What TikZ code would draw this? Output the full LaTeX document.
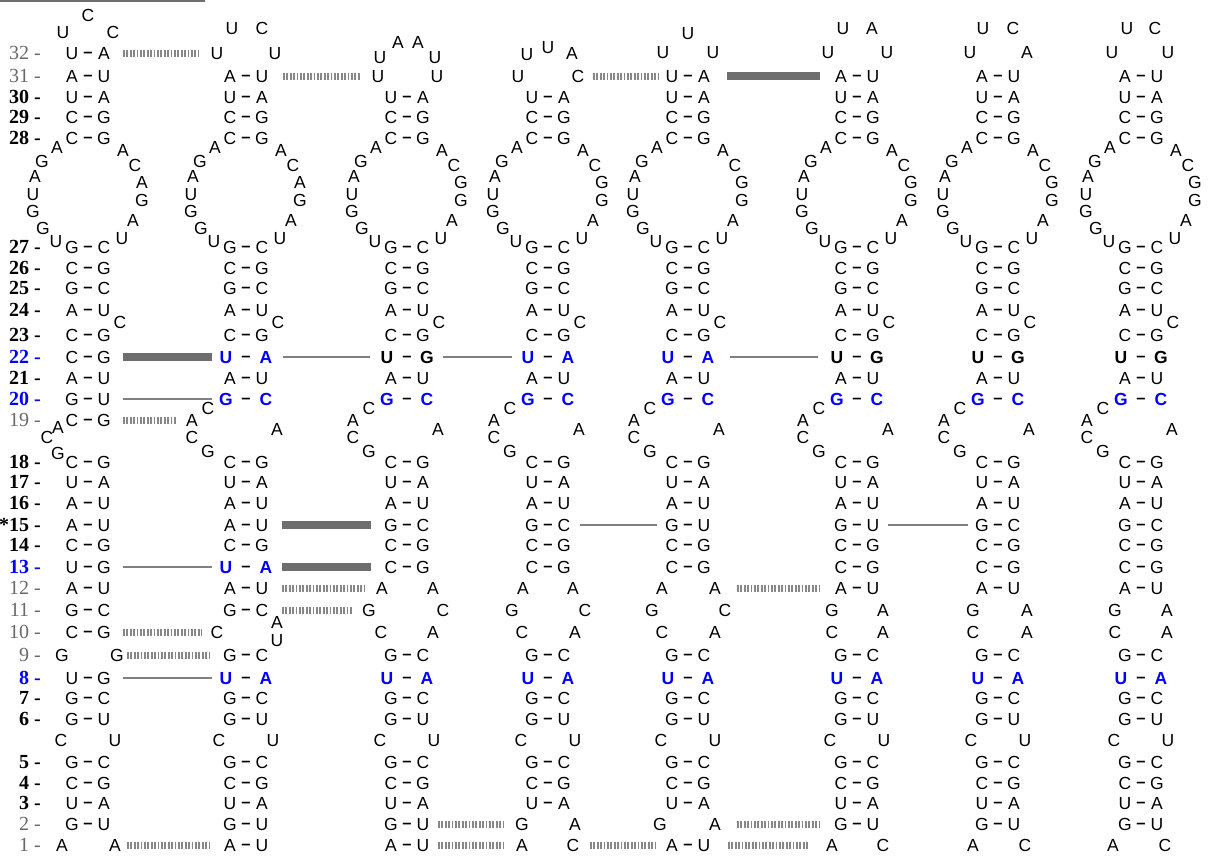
\documentclass[tikz,border=0pt]{standalone}
\usepackage{fontspec}
\setmainfont{Liberation Serif}
\newfontfamily\rnafont{Liberation Sans}
\definecolor{rnablue}{RGB}{0,0,255}
\definecolor{lblgray}{RGB}{105,105,105}
\definecolor{bargray}{RGB}{110,110,110}
\definecolor{linegray}{RGB}{128,128,128}
\definecolor{dashgray}{RGB}{135,135,135}
\tikzset{
 nt/.style={font=\rnafont\fontsize{17.5}{19}\selectfont, inner sep=0pt, text height=12.5pt, text depth=0pt, anchor=center},
 ntb/.style={nt, font=\rnafont\bfseries\fontsize{17.5}{19}\selectfont},
 ntdash/.style={nt, font=\rnafont\bfseries\fontsize{16.5}{18}\selectfont, yshift=1.3pt},
 lbl/.style={font=\bfseries\fontsize{20}{22}\selectfont, inner sep=0pt, text height=13.5pt, text depth=0pt, anchor=east},
 lblg/.style={lbl, font=\fontsize{20}{22}\selectfont, text=lblgray},
 lblb/.style={lbl, text=rnablue},
 thinlink/.style={draw=linegray, line width=2pt},
 thicklink/.style={draw=bargray, line width=8.5pt},
 dashlink/.style={draw=dashgray, line width=7pt, dash pattern=on 1.7pt off 1.7pt},
}
\def\colx{{0,88,246,407,548,688,857,998,1141}}
\newcommand\RNApair[5]{%
  \pgfmathsetmacro\cxx{\colx[#1]}%
  \node[nt] (c#1r#2L) at (\cxx-16,#3) {#4};%
  \node[ntdash] (c#1r#2d) at (\cxx,#3) {–};%
  \node[nt] (c#1r#2R) at (\cxx+16,#3) {#5};%
}
\newcommand\RNAbold[6]{%
  \pgfmathsetmacro\cxx{\colx[#1]}%
  \node[ntb,text=#6] (c#1r#2L) at (\cxx-20,#3) {#4};%
  \node[ntdash] (c#1r#2d) at (\cxx,#3) {–};%
  \node[ntb,text=#6] (c#1r#2R) at (\cxx+20,#3) {#5};%
}
\newcommand\RNAunp[7]{%
  \pgfmathsetmacro\cxx{\colx[#1]}%
  \node[nt] (c#1r#2L) at (\cxx+#5,#3) {#4};%
  \node[nt] (c#1r#2R) at (\cxx+#7,#3) {#6};%
}
\newcommand\RNAnt[5]{%
  \pgfmathsetmacro\cxx{\colx[#1]}%
  \node[nt] (c#1#2) at (\cxx+#3,#4) {#5};%
}
\newcommand\RNAlink[5]{\draw[#1, shorten <=#4pt, shorten >=#5pt] (#2.center) -- (#3.center);}
\begin{document}
\begin{tikzpicture}[x=1pt,y=-1pt]
\useasboundingbox (0,0) rectangle (1210,855);
\draw[draw=bargray, line width=2.5pt] (0,1.2) -- (205,1.2);
% row labels
\node[lblg] (l32) at (41,53) {32 -};
\node[lblg] (l31) at (41,76) {31 -};
\node[lbl] (l30) at (41,97) {30 -};
\node[lbl] (l29) at (41,117) {29 -};
\node[lbl] (l28) at (41,138) {28 -};
\node[lbl] (l27) at (41,247) {27 -};
\node[lbl] (l26) at (41,268) {26 -};
\node[lbl] (l25) at (41,288) {25 -};
\node[lbl] (l24) at (41,310) {24 -};
\node[lbl] (l23) at (41,335) {23 -};
\node[lblb] (l22) at (41,357) {22 -};
\node[lbl] (l21) at (41,378) {21 -};
\node[lblb] (l20) at (41,399) {20 -};
\node[lblg] (l19) at (41,420) {19 -};
\node[lbl] (l18) at (41,462) {18 -};
\node[lbl] (l17) at (41,482) {17 -};
\node[lbl] (l16) at (41,503) {16 -};
\node[lbl] (l15) at (41,525) {*15 -};
\node[lbl] (l14) at (41,545) {14 -};
\node[lblb] (l13) at (41,567) {13 -};
\node[lblg] (l12) at (41,588) {12 -};
\node[lblg] (l11) at (41,610) {11 -};
\node[lblg] (l10) at (41,632) {10 -};
\node[lblg] (l9) at (41,655) {9 -};
\node[lblb] (l8) at (41,678) {8 -};
\node[lbl] (l7) at (41,698) {7 -};
\node[lbl] (l6) at (41,719) {6 -};
\node[lbl] (l5) at (41,762) {5 -};
\node[lbl] (l4) at (41,783) {4 -};
\node[lbl] (l3) at (41,803) {3 -};
\node[lblg] (l2) at (41,824) {2 -};
\node[lblg] (l1) at (41,845) {1 -};
% rows common to all columns
\foreach \ci in {1,...,8}{
  \RNApair{\ci}{30}{97}{U}{A}
  \RNApair{\ci}{29}{117}{C}{G}
  \RNApair{\ci}{28}{138}{C}{G}
  \RNAnt{\ci}{i1}{-31}{147}{A}
  \RNAnt{\ci}{i2}{-46}{161}{G}
  \RNAnt{\ci}{i3}{-53}{176}{A}
  \RNAnt{\ci}{i4}{-55}{194}{U}
  \RNAnt{\ci}{i5}{-55}{211}{G}
  \RNAnt{\ci}{i6}{-45}{228}{G}
  \RNAnt{\ci}{i7}{-32}{241}{U}
  \RNAnt{\ci}{j1}{35}{150}{A}
  \RNAnt{\ci}{j2}{47}{165}{C}
  \RNAnt{\ci}{j3}{54}{182}{\ifnum\ci<3 A\else G\fi}
  \RNAnt{\ci}{j4}{54}{200}{G}
  \RNAnt{\ci}{j5}{45}{220}{A}
  \RNAnt{\ci}{j6}{34}{238}{U}
  \RNApair{\ci}{27}{247}{G}{C}
  \RNApair{\ci}{26}{268}{C}{G}
  \RNApair{\ci}{25}{288}{G}{C}
  \RNApair{\ci}{24}{310}{A}{U}
  \RNAnt{\ci}{k}{32}{322}{C}
  \RNApair{\ci}{23}{335}{C}{G}
  \RNApair{\ci}{21}{378}{A}{U}
  \RNApair{\ci}{18}{462}{C}{G}
  \RNApair{\ci}{17}{482}{U}{A}
  \RNApair{\ci}{16}{503}{A}{U}
  \RNApair{\ci}{14}{545}{C}{G}
  \RNApair{\ci}{7}{698}{G}{C}
  \RNApair{\ci}{6}{719}{G}{U}
  \RNAunp{\ci}{x}{740}{C}{-27}{U}{27}
  \RNApair{\ci}{5}{762}{G}{C}
  \RNApair{\ci}{4}{783}{C}{G}
  \RNApair{\ci}{3}{803}{U}{A}
}
\foreach \ci in {2,...,8}{
  \RNAbold{\ci}{20}{399}{G}{C}{rnablue}
  \RNAnt{\ci}{b1}{-38}{408}{C}
  \RNAnt{\ci}{b2}{-54}{420}{A}
  \RNAnt{\ci}{b3}{-54}{437}{C}
  \RNAnt{\ci}{b4}{-38}{451}{G}
  \RNAnt{\ci}{b5}{31}{429}{A}
  \RNApair{\ci}{9}{655}{G}{C}
  \RNAbold{\ci}{8}{678}{U}{A}{rnablue}
}
% column 1
\RNAnt{1}{t1}{0}{15}{C}
\RNAnt{1}{t2}{-25}{32}{U}
\RNAnt{1}{t3}{25}{32}{C}
\RNApair{1}{32}{53}{U}{A}
\RNApair{1}{31}{76}{A}{U}
\RNApair{1}{22}{357}{C}{G}
\RNApair{1}{20}{399}{G}{U}
\RNApair{1}{19}{420}{C}{G}
\RNAnt{1}{b1}{-30}{427}{A}
\RNAnt{1}{b2}{-41}{437}{C}
\RNAnt{1}{b3}{-30}{453}{G}
\RNApair{1}{15}{525}{A}{U}
\RNApair{1}{13}{567}{U}{G}
\RNApair{1}{12}{588}{A}{U}
\RNApair{1}{11}{610}{G}{C}
\RNApair{1}{10}{632}{C}{G}
\RNAunp{1}{9}{655}{G}{-26}{G}{29}
\RNApair{1}{8}{678}{U}{G}
\RNApair{1}{2}{824}{G}{U}
\RNAunp{1}{1}{845}{A}{-26}{A}{27}
% column 2
\RNAnt{2}{t1}{-14}{28}{U}
\RNAnt{2}{t2}{16}{28}{C}
\RNAunp{2}{32}{53}{U}{-29}{U}{29}
\RNApair{2}{31}{76}{A}{U}
\RNAbold{2}{22}{357}{U}{A}{rnablue}
\RNApair{2}{15}{525}{A}{U}
\RNAbold{2}{13}{567}{U}{A}{rnablue}
\RNApair{2}{12}{588}{A}{U}
\RNApair{2}{11}{610}{G}{C}
\RNAnt{2}{r10L}{-29}{632}{C}
\RNAnt{2}{a1}{31}{622}{A}
\RNAnt{2}{a2}{31}{640}{U}
\RNApair{2}{2}{824}{G}{U}
\RNApair{2}{1}{845}{A}{U}
% column 3
\RNAnt{3}{t1}{-9}{42}{A}
\RNAnt{3}{t2}{11}{42}{A}
\RNAnt{3}{t3}{-27}{57}{U}
\RNAnt{3}{t4}{28}{57}{U}
\RNAunp{3}{31}{76}{U}{-29}{U}{30}
\RNAbold{3}{22}{357}{U}{G}{black}
\RNApair{3}{15}{525}{G}{C}
\RNApair{3}{13}{567}{C}{G}
\RNAunp{3}{12}{588}{A}{-25}{A}{26}
\RNAunp{3}{11}{610}{G}{-38}{C}{36}
\RNAunp{3}{10}{632}{C}{-26}{A}{26}
\RNApair{3}{2}{824}{G}{U}
\RNApair{3}{1}{845}{A}{U}
% column 4
\RNAnt{4}{t1}{-21}{54}{U}
\RNAnt{4}{t2}{0}{47}{U}
\RNAnt{4}{t3}{24}{53}{A}
\RNAunp{4}{31}{76}{U}{-30}{C}{30}
\RNAbold{4}{22}{357}{U}{A}{rnablue}
\RNApair{4}{15}{525}{G}{C}
\RNApair{4}{13}{567}{C}{G}
\RNAunp{4}{12}{588}{A}{-25}{A}{25}
\RNAunp{4}{11}{610}{G}{-36}{C}{37}
\RNAunp{4}{10}{632}{C}{-26}{A}{27}
\RNAunp{4}{2}{824}{G}{-26}{A}{27}
\RNAunp{4}{1}{845}{A}{-26}{C}{25}
% column 5
\RNAnt{5}{t1}{0}{33}{U}
\RNAnt{5}{t2}{-25}{52}{U}
\RNAnt{5}{t3}{25}{52}{U}
\RNApair{5}{31}{76}{U}{A}
\RNAbold{5}{22}{357}{U}{A}{rnablue}
\RNApair{5}{15}{525}{G}{U}
\RNApair{5}{13}{567}{C}{G}
\RNAunp{5}{12}{588}{A}{-26}{A}{27}
\RNAunp{5}{11}{610}{G}{-36}{C}{37}
\RNAunp{5}{10}{632}{C}{-26}{A}{27}
\RNAunp{5}{2}{824}{G}{-28}{A}{27}
\RNApair{5}{1}{845}{A}{U}
% column 6
\RNAnt{6}{t1}{-14}{28}{U}
\RNAnt{6}{t2}{15}{28}{A}
\RNAunp{6}{32}{52}{U}{-29}{U}{30}
\RNApair{6}{31}{76}{A}{U}
\RNAbold{6}{22}{357}{U}{G}{black}
\RNApair{6}{15}{525}{G}{U}
\RNApair{6}{13}{567}{C}{G}
\RNApair{6}{12}{588}{A}{U}
\RNAunp{6}{11}{610}{G}{-25}{A}{26}
\RNAunp{6}{10}{632}{C}{-25}{A}{26}
\RNApair{6}{2}{824}{G}{U}
\RNAunp{6}{1}{845}{A}{-25}{C}{26}
% column 7
\RNAnt{7}{t1}{-15}{28}{U}
\RNAnt{7}{t2}{15}{28}{C}
\RNAunp{7}{32}{52}{U}{-28}{A}{29}
\RNApair{7}{31}{76}{A}{U}
\RNAbold{7}{22}{357}{U}{G}{black}
\RNApair{7}{15}{525}{G}{C}
\RNApair{7}{13}{567}{C}{G}
\RNApair{7}{12}{588}{A}{U}
\RNAunp{7}{11}{610}{G}{-25}{A}{29}
\RNAunp{7}{10}{632}{C}{-25}{A}{29}
\RNApair{7}{2}{824}{G}{U}
\RNAunp{7}{1}{845}{A}{-25}{C}{27}
% column 8
\RNAnt{8}{t1}{-14}{28}{U}
\RNAnt{8}{t2}{14}{28}{C}
\RNAunp{8}{32}{52}{U}{-29}{U}{27}
\RNApair{8}{31}{76}{A}{U}
\RNAbold{8}{22}{357}{U}{G}{black}
\RNApair{8}{15}{525}{G}{C}
\RNApair{8}{13}{567}{C}{G}
\RNApair{8}{12}{588}{A}{U}
\RNAunp{8}{11}{610}{G}{-26}{A}{26}
\RNAunp{8}{10}{632}{C}{-26}{A}{26}
\RNApair{8}{2}{824}{G}{U}
\RNAunp{8}{1}{845}{A}{-28}{C}{24}
% connectors
\RNAlink{dashlink}{c1r32R}{c2r32L}{19}{19}
\RNAlink{thicklink}{c1r22R}{c2r22L}{19}{14}
\RNAlink{thinlink}{c1r20R}{c2r20L}{19}{14}
\RNAlink{dashlink}{c1r19R}{c2b2}{19}{16}
\RNAlink{thinlink}{c1r13R}{c2r13L}{19}{14}
\RNAlink{dashlink}{c1r10R}{c2r10L}{19}{15}
\RNAlink{dashlink}{c1r9R}{c2r9L}{10}{19}
\RNAlink{thinlink}{c1r8R}{c2r8L}{19}{14}
\RNAlink{dashlink}{c1r1R}{c2r1L}{12}{19}
\RNAlink{dashlink}{c2r31R}{c3r31L}{21}{18}
\RNAlink{thinlink}{c2r22R}{c3r22L}{17}{17}
\RNAlink{thicklink}{c2r15R}{c3r15L}{20}{20}
\RNAlink{thicklink}{c2r13R}{c3r13L}{16}{20}
\RNAlink{dashlink}{c2r12R}{c3r12L}{20}{16}
\RNAlink{dashlink}{c2r11R}{c3r11L}{20}{16}
\RNAlink{thinlink}{c3r22R}{c4r22L}{16}{16}
\RNAlink{dashlink}{c3r2R}{c4r2L}{15}{19}
\RNAlink{dashlink}{c3r1R}{c4r1L}{15}{19}
\RNAlink{dashlink}{c4r31R}{c5r31L}{15}{13}
\RNAlink{thinlink}{c4r15R}{c5r15L}{16}{15}
\RNAlink{dashlink}{c4r1R}{c5r1L}{17}{17}
\RNAlink{thicklink}{c5r31R}{c6r31L}{23}{21}
\RNAlink{thinlink}{c5r22R}{c6r22L}{22}{19}
\RNAlink{dashlink}{c5r12R}{c6r12L}{22}{21}
\RNAlink{dashlink}{c5r2R}{c6r2L}{22}{21}
\RNAlink{dashlink}{c5r1R}{c6r1L}{24}{24}
\RNAlink{thinlink}{c6r15R}{c7r15L}{15}{14}
\end{tikzpicture}
\end{document}
